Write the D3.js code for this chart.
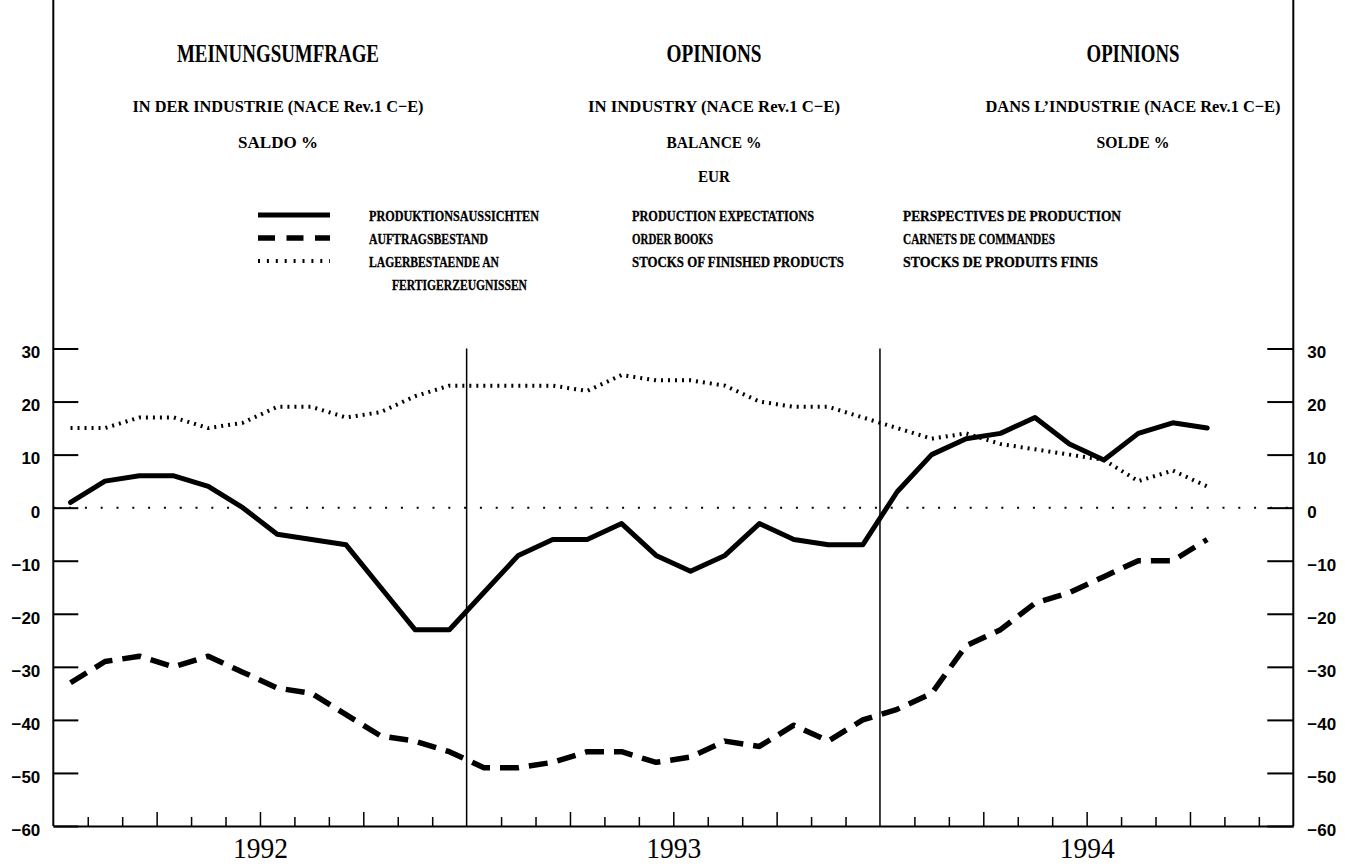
<!DOCTYPE html>
<html><head><meta charset="utf-8">
<script src="https://cdn.jsdelivr.net/npm/d3@7"></script>
<style>html,body{margin:0;padding:0;background:#fff;} svg{display:block;}</style>
</head><body><svg id="c" width="1354" height="866"></svg>
<script>
// ---- data ----
const months = ["1992-01","1992-02","1992-03","1992-04","1992-05","1992-06","1992-07","1992-08","1992-09","1992-10","1992-11","1992-12",
                "1993-01","1993-02","1993-03","1993-04","1993-05","1993-06","1993-07","1993-08","1993-09","1993-10","1993-11","1993-12",
                "1994-01","1994-02","1994-03","1994-04","1994-05","1994-06","1994-07","1994-08","1994-09","1994-10"];
const years = ["1992","1993","1994"];
const production = [1,5,6,6,4,0,-5,-6,-7,-15,-23,-23, -16,-9,-6,-6,-3,-9,-12,-9,-3,-6,-7,-7, 3,10,13,14,17,12,9,14,16,15];
const orders = [-33,-29,-28,-30,-28,-31,-34,-35,-39,-43,-44,-46, -49,-49,-48,-46,-46,-48,-47,-44,-45,-41,-44,-40, -38,-35,-26,-23,-18,-16,-13,-10,-10,-6];
const stocks = [15,15,17,17,15,16,19,19,17,18,21,23, 23,23,23,22,25,24,24,23,20,19,19,17, 15,13,14,12,11,10,9,5,7,4];
const yTicks = [30,20,10,0,-10,-20,-30,-40,-50,-60];
const titleDE = ["MEINUNGSUMFRAGE","IN DER INDUSTRIE (NACE Rev.1 C−E)","SALDO  %"];
const titleEN = ["OPINIONS","IN INDUSTRY (NACE Rev.1 C−E)","BALANCE  %","EUR"];
const titleFR = ["OPINIONS","DANS L’INDUSTRIE (NACE Rev.1 C−E)","SOLDE  %"];
const legendDE = ["PRODUKTIONSAUSSICHTEN","AUFTRAGSBESTAND","LAGERBESTAENDE AN","FERTIGERZEUGNISSEN"];
const legendEN = ["PRODUCTION EXPECTATIONS","ORDER BOOKS","STOCKS OF FINISHED PRODUCTS"];
const legendFR = ["PERSPECTIVES DE PRODUCTION","CARNETS DE COMMANDES","STOCKS DE PRODUITS FINIS"];

// ---- drawing ----
const svg = d3.select("#c");
const nMonths = years.length * 12;
const x = d3.scaleLinear().domain([0, nMonths]).range([53.3, 1293.3]);
const y = d3.scaleLinear().domain([-60, 30]).range([826, 348.5]);
const serif = "'Liberation Serif','DejaVu Serif',serif";
const sans = "'Liberation Sans',Arial,sans-serif";

const styles = {
  prod:   {w:5,   dash:null},
  orders: {w:5.5, dash:"19,10"},
  stocks: {w:4,   dash:"2,5"}
};

// titles
const titleCols = [
  {lines:titleDE, cx:278, widths:[202,291,80]},
  {lines:titleEN, cx:714, widths:[95,252,95,32]},
  {lines:titleFR, cx:1133, widths:[93,295,73]}
];
const titleY = [61.7,111.7,148.3,181.7];
titleCols.forEach(col => {
  col.lines.forEach((t,i) => {
    svg.append("text").attr("x", col.cx).attr("y", titleY[i])
      .attr("text-anchor","middle")
      .attr("font-family", serif)
      .attr("font-size", i===0 ? 25 : 17)
      .attr("font-weight", "bold")
      .attr("textLength", col.widths[i]).attr("lengthAdjust","spacingAndGlyphs")
      .text(t);
  });
});

// legend
const legRowY = [215, 238, 261, 284];
const legKeys = ["prod","orders","stocks"];
legKeys.forEach((k,i) => {
  const s = styles[k];
  const ln = svg.append("line").attr("x1",258).attr("x2",330)
    .attr("y1",legRowY[i]).attr("y2",legRowY[i])
    .attr("stroke","#000").attr("stroke-width", s.w);
  if (k==="orders") ln.attr("stroke-dasharray","17,11.5");
  if (k==="stocks") ln.attr("stroke-dasharray","2,6.9");
});
const legCols = [
  {lines:legendDE, x:[369,369,369,392], widths:[170,119,130,135]},
  {lines:legendEN, x:[632,632,632], widths:[182,81,212]},
  {lines:legendFR, x:[903,903,903], widths:[218,152,195]}
];
legCols.forEach(col => {
  col.lines.forEach((t,i) => {
    svg.append("text").attr("x", col.x[i]).attr("y", legRowY[i] + 5.5)
      .attr("font-family", serif).attr("font-size", 15.5).attr("font-weight","bold")
      .attr("stroke","#000").attr("stroke-width",0.3)
      .attr("textLength", col.widths[i]).attr("lengthAdjust","spacingAndGlyphs")
      .text(t);
  });
});

// frame (left/right verticals to top)
[0, nMonths].forEach(v => {
  svg.append("line").attr("x1",x(v)).attr("x2",x(v)).attr("y1",0).attr("y2",y(-60))
    .attr("stroke","#000").attr("stroke-width",2);
});

// y axes
const fmt = d => d < 0 ? "−" + Math.abs(d) : String(d);
const yl = svg.append("g").attr("transform",`translate(${x(0)},0)`)
  .call(d3.axisLeft(y).tickValues(yTicks).tickSize(-25).tickPadding(13).tickFormat(fmt));
const yr = svg.append("g").attr("transform",`translate(${x(nMonths)},0)`)
  .call(d3.axisRight(y).tickValues(yTicks).tickSize(-26).tickPadding(14).tickFormat(fmt));
[yl, yr].forEach(g => {
  g.select(".domain").remove();
  g.selectAll(".tick line").attr("stroke","#000").attr("stroke-width",2);
  g.selectAll("text").attr("font-family",sans).attr("font-size",17).attr("font-weight","bold")
    .attr("fill","#000").attr("dy","0.55em");
});

// x axis: minor & quarter ticks
const minorTicks = d3.range(1, nMonths).filter(m => m % 3 !== 0);
const quarterTicks = d3.range(1, nMonths).filter(m => m % 3 === 0 && m % 12 !== 0);
const xa = svg.append("g").attr("transform",`translate(0,${y(-60)})`)
  .call(d3.axisBottom(x).tickValues(minorTicks).tickSize(-9).tickSizeOuter(0).tickFormat(""));
xa.select(".domain").attr("stroke-width",2);
xa.selectAll(".tick line").attr("stroke-width",1.5);
const xq = svg.append("g").attr("transform",`translate(0,${y(-60)})`)
  .call(d3.axisBottom(x).tickValues(quarterTicks).tickSize(-14).tickSizeOuter(0).tickFormat(""));
xq.select(".domain").remove();
xq.selectAll(".tick line").attr("stroke-width",1.5);
const xy = svg.append("g").attr("transform",`translate(0,${y(-60)})`)
  .call(d3.axisBottom(x).tickValues(years.map((d,i)=>i*12+6)).tickSize(0).tickFormat((d,i)=>years[i]));
xy.select(".domain").remove();
xy.selectAll("text").attr("y",32).attr("dy",0)
  .attr("font-family",serif).attr("font-size",30).attr("fill","#000")
  .attr("textLength",55).attr("lengthAdjust","spacingAndGlyphs");

// year dividers
[12, 24].forEach(v => {
  svg.append("line").attr("x1",x(v)).attr("x2",x(v)).attr("y1",y(30)).attr("y2",y(-60))
    .attr("stroke","#000").attr("stroke-width",1.5);
});

// zero line
svg.append("line").attr("x1",x(0)).attr("x2",x(nMonths)).attr("y1",y(0)).attr("y2",y(0))
  .attr("stroke","#000").attr("stroke-width",2).attr("stroke-dasharray","2,13.8");

// series
const line = d3.line().x((d,i)=>x(i+0.5)).y(d=>y(d));
const series = [{k:"stocks",v:stocks},{k:"orders",v:orders},{k:"prod",v:production}];
series.forEach(s => {
  const st = styles[s.k];
  const p = svg.append("path").datum(s.v).attr("d", line)
    .attr("fill","none").attr("stroke","#000").attr("stroke-width",st.w)
    .attr("stroke-linejoin","round");
  if (st.dash) p.attr("stroke-dasharray", st.dash);
  else p.attr("stroke-linecap","round");
});
</script></body></html>
